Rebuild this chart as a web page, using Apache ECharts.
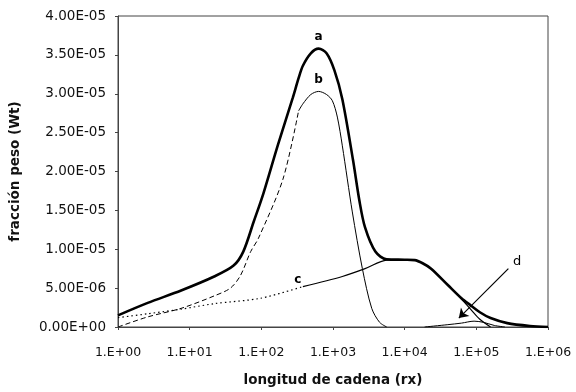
<!DOCTYPE html>
<html>
<head>
<meta charset="utf-8">
<script src="https://cdn.jsdelivr.net/npm/echarts@6/dist/echarts.min.js"></script>
<style>html,body{margin:0;padding:0;background:#fff}#c{width:576px;height:392px}</style>
</head>
<body>
<div id="c"></div>
<script>
// Chain length (rx) values and weight fractions
const curveA = [[1,1.5e-6],[2.6,3.1e-6],[7.6,4.7e-6],[22,6.5e-6],[41,7.9e-6],[56,9.7e-6],[78,1.35e-5],[107,1.72e-5],[170,2.34e-5],[275,2.95e-5],[331,3.2e-5],[380,3.36e-5],[490,3.52e-5],[630,3.58e-5],[813,3.52e-5],[1047,3.3e-5],[1350,2.93e-5],[1900,2.15e-5],[2340,1.62e-5],[2800,1.28e-5],[3900,9.7e-6],[5600,8.7e-6],[10000,8.65e-6],[13800,8.6e-6],[17800,8.2e-6],[23400,7.5e-6],[40000,5.4e-6],[62000,3.7e-6],[83000,2.8e-6],[112000,1.9e-6],[158000,1.15e-6],[270000,5e-7],[560000,1.3e-7],[1000000,0]];
const curveBdashed = [[1,0],[2.6,1.3e-6],[7.6,2.4e-6],[22,4.0e-6],[37,5.0e-6],[51,6.6e-6],[71,9.7e-6],[91,1.14e-5],[200,1.9e-5],[331,2.78e-5]];
const curveB = [[331,2.78e-5],[380,2.87e-5],[490,2.99e-5],[630,3.03e-5],[813,2.99e-5],[980,2.91e-5],[1150,2.7e-5],[1350,2.33e-5],[1860,1.48e-5],[2570,7.5e-6],[3470,2.4e-6],[4470,6e-7],[5620,0]];
const curveCdotted = [[1,1.2e-6],[2.6,1.7e-6],[7.6,2.3e-6],[22,3.0e-6],[98,3.7e-6],[380,5.2e-6]];
const curveC = [[380,5.2e-6],[1350,6.5e-6],[2800,7.5e-6],[5600,8.6e-6],[10000,8.65e-6],[13800,8.6e-6],[17800,8.2e-6],[23400,7.5e-6],[40000,5.4e-6],[62000,3.6e-6],[83000,2.3e-6],[112000,1.0e-6],[158000,0]];
const curveD = [[19000,0],[40000,3e-7],[62000,5e-7],[93000,7.5e-7],[126000,6e-7],[178000,2e-7],[250000,0]];
const xTickLabels = ['1.E+00','1.E+01','1.E+02','1.E+03','1.E+04','1.E+05','1.E+06'];
const yTickLabels = ['0.00E+00','5.00E-06','1.00E-05','1.50E-05','2.00E-05','2.50E-05','3.00E-05','3.50E-05','4.00E-05'];
const curveLabels = [{name:'a', at:[630,3.73e-5]},{name:'b', at:[630,3.18e-5]},{name:'c', at:[324,6.1e-6]},{name:'d', at:[372000,8.4e-6]}];
const arrowFrom = [280000,7.5e-6];
const arrowTo = [57000,1.15e-6];

const font = '"DejaVu Sans", sans-serif';
function lbl(i, bold){
  const l = curveLabels[i];
  return {
    symbol:'rect', symbolSize:1, itemStyle:{color:'rgba(0,0,0,0)'},
    label:{show:true, position:'inside', color:'#000', fontFamily:font, fontSize: bold?12:13, fontWeight: bold?'bold':'normal', formatter:l.name},
    data:[{coord:l.at}]
  };
}
const chart = echarts.init(document.getElementById('c'));
chart.setOption({
  animation:false,
  grid:{left:113, right:28, top:16, bottom:63, show:true, borderColor:'#444', borderWidth:1},
  xAxis:{
    type:'log', logBase:10, min:1, max:1000000,
    name:'longitud de cadena (rx)', nameLocation:'middle', nameGap:46,
    nameTextStyle:{fontFamily:font, fontSize:13.5, fontWeight:'bold', color:'#111'},
    axisLine:{show:true, lineStyle:{color:'#444', width:1}},
    axisTick:{show:true, inside:false, length:3, lineStyle:{color:'#444'}},
    splitLine:{show:false},
    minorTick:{show:false},
    axisLabel:{margin:19, fontFamily:font, fontSize:12.5, color:'#111',
      formatter:v=>xTickLabels[Math.round(Math.log10(v))]}
  },
  yAxis:{
    type:'value', min:0, max:4e-5, interval:5e-6,
    name:'fracción peso (Wt)', nameLocation:'middle', nameGap:96, nameRotate:90,
    nameTextStyle:{fontFamily:font, fontSize:13.5, fontWeight:'bold', color:'#111'},
    axisLine:{show:true, lineStyle:{color:'#444', width:1}},
    axisTick:{show:true, length:3, lineStyle:{color:'#444'}},
    splitLine:{show:false},
    axisLabel:{margin:12, fontFamily:font, fontSize:13.5, color:'#111',
      formatter:v=>yTickLabels[Math.round(v/5e-6)]}
  },
  series:[
    {type:'line', data:curveA, smooth:0.3, symbol:'none', lineStyle:{color:'#000', width:2.6}, markPoint:lbl(0,true), z:5},
    {type:'line', data:curveBdashed, smooth:0.3, symbol:'none', lineStyle:{color:'#000', width:1, type:[5,3]}},
    {type:'line', data:curveB, smooth:0.3, symbol:'none', lineStyle:{color:'#000', width:1}, markPoint:lbl(1,true)},
    {type:'line', data:curveCdotted, smooth:0.3, symbol:'none', lineStyle:{color:'#000', width:1.2, type:[1.5,3]}},
    {type:'line', data:curveC, smooth:0.3, symbol:'none', lineStyle:{color:'#000', width:1.2}, markPoint:lbl(2,true)},
    {type:'line', data:curveD, smooth:0.3, symbol:'none', lineStyle:{color:'#000', width:1}, markPoint:lbl(3,false),
      markLine:{silent:true, symbol:['none','arrow'], symbolSize:9, label:{show:false},
        lineStyle:{color:'#000', width:1.2, type:'solid'},
        data:[[{coord:arrowFrom},{coord:arrowTo}]]}}
  ]
});
</script>
</body>
</html>
